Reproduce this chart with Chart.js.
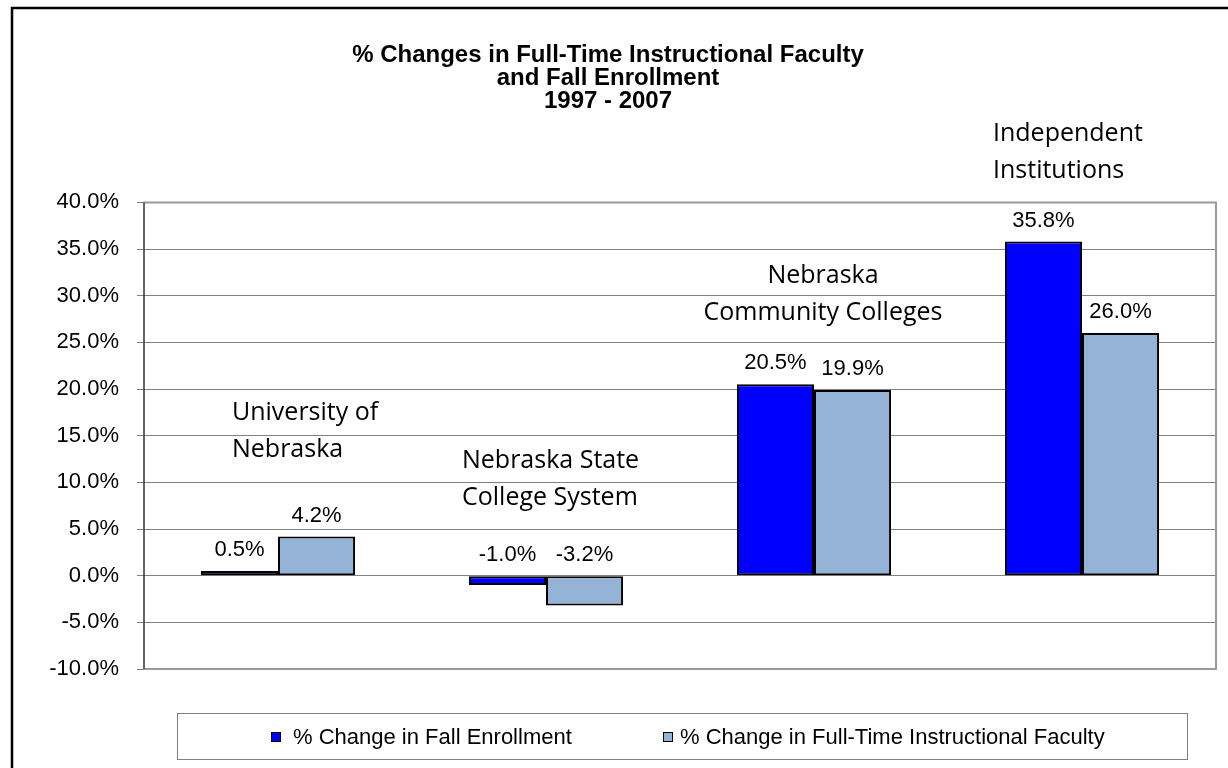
<!DOCTYPE html>
<html>
<head>
<meta charset="utf-8">
<script src="https://cdn.jsdelivr.net/npm/chart.js@4.4.1/dist/chart.umd.min.js"></script>
<style>
  body { margin: 0; background: #fff; overflow: hidden; }
  #wrap { position: relative; width: 1228px; height: 768px; }
  #legend {
    position: absolute; left: 177px; top: 713px; width: 1011px; height: 47px;
    border: 1px solid #808080; box-sizing: border-box;
    font-family: "Liberation Sans", Arial, sans-serif; font-size: 22px;
  }
  #legend span.item { position: absolute; top: 0; height: 45px; display: flex; align-items: center; white-space: nowrap; }
  #legend i { display: inline-block; width: 8px; height: 8px; border: 1.5px solid #000; }
</style>
</head>
<body>
<div id="wrap">
  <canvas id="chart" width="1228" height="768"></canvas>
  <div id="legend"></div>
</div>
<script>
// data
var categories = [
    ['University of', 'Nebraska'],
    ['Nebraska State', 'College System'],
    ['Nebraska', 'Community Colleges'],
    ['Independent', 'Institutions']
];
var enrollment = [0.5, -1.0, 20.5, 35.8];
var faculty = [4.2, -3.2, 19.9, 26.0];
var seriesNames = ['% Change in Fall Enrollment', '% Change in Full-Time Instructional Faculty'];
var yTicks = [-10, -5, 0, 5, 10, 15, 20, 25, 30, 35, 40];
var titleLines = ['% Changes in Full-Time Instructional Faculty', 'and Fall Enrollment', '1997 - 2007'];

var colors = ['#0000ff', '#95b3d7'];
var arial = '"Liberation Sans", Arial, sans-serif';

// outer frame + plot area border
var framePlugin = {
    id: 'frame',
    beforeDraw: function(chart) {
        var ctx = chart.ctx;
        ctx.save();
        ctx.strokeStyle = '#000';
        ctx.lineWidth = 2.5;
        ctx.strokeRect(12, 8, 1400, 1000);
        ctx.restore();
    },
    afterDraw: function(chart) {
        var ctx = chart.ctx, a = chart.chartArea;
        ctx.save();
        ctx.strokeStyle = '#9a9a9a';
        ctx.lineWidth = 2;
        ctx.beginPath();
        ctx.moveTo(a.left, a.top);
        ctx.lineTo(a.right, a.top);
        ctx.lineTo(a.right, a.bottom);
        ctx.lineTo(a.left, a.bottom);
        ctx.stroke();
        ctx.strokeStyle = '#333';
        ctx.lineWidth = 1.5;
        ctx.beginPath();
        ctx.moveTo(a.left, a.top);
        ctx.lineTo(a.left, a.bottom);
        ctx.stroke();
        ctx.restore();
    }
};

// value labels above each bar
var valueLabels = {
    id: 'valueLabels',
    afterDatasetsDraw: function(chart) {
        var ctx = chart.ctx, y = chart.scales.y;
        ctx.save();
        ctx.font = '22px ' + arial;
        ctx.fillStyle = '#000';
        ctx.textAlign = 'center';
        ctx.textBaseline = 'middle';
        chart.data.datasets.forEach(function(ds, di) {
            chart.getDatasetMeta(di).data.forEach(function(bar, i) {
                var v = ds.data[i];
                var py = y.getPixelForValue(Math.max(v, 0)) - 21;
                ctx.fillText(v.toFixed(1) + '%', bar.x, py);
            });
        });
        ctx.restore();
    }
};

// category names floating above the groups
var catLayout = [
    { dx: -46, at: 17.5, align: 'left' },
    { dx: -84, at: 12.4, align: 'left' },
    { dx: 9, at: 32.2, align: 'center' },
    { dx: -89, at: 47.5, align: 'left' }
];
var categoryLabels = {
    id: 'categoryLabels',
    afterDraw: function(chart) {
        var ctx = chart.ctx, x = chart.scales.x, y = chart.scales.y;
        ctx.save();
        ctx.font = '25px "Open Sans", sans-serif';
        ctx.fillStyle = '#000';
        ctx.textBaseline = 'middle';
        categories.forEach(function(lines, i) {
            var l = catLayout[i];
            var px = x.getPixelForValue(i) + l.dx;
            var py = y.getPixelForValue(l.at) + 1;
            ctx.textAlign = l.align;
            lines.forEach(function(t, k) {
                ctx.fillText(t, px, py + k * 37);
            });
        });
        ctx.restore();
    }
};

var chart = new Chart(document.getElementById('chart'), {
    type: 'bar',
    data: {
        labels: categories.map(function(c) { return c.join(' '); }),
        datasets: [
            { label: seriesNames[0], data: enrollment, backgroundColor: colors[0] },
            { label: seriesNames[1], data: faculty, backgroundColor: colors[1] }
        ]
    },
    options: {
        responsive: false,
        animation: false,
        events: [],
        layout: { padding: { left: 0, right: 12, top: 0, bottom: 99 } },
        datasets: {
            bar: {
                borderColor: '#000',
                borderWidth: 2,
                borderSkipped: false,
                barPercentage: 1,
                categoryPercentage: 0.575
            }
        },
        plugins: {
            legend: { display: false },
            tooltip: { enabled: false },
            title: {
                display: true,
                text: titleLines,
                color: '#000',
                font: { family: arial, size: 24, weight: 'bold', lineHeight: 0.95 },
                padding: { top: 44, bottom: 90 }
            }
        },
        scales: {
            x: {
                ticks: { display: false },
                grid: { display: false, drawTicks: false },
                border: { display: false },
                afterFit: function(s) { s.height = 0; }
            },
            y: {
                min: -10,
                max: 40,
                afterBuildTicks: function(s) {
                    s.ticks = yTicks.map(function(v) { return { value: v }; });
                },
                afterFit: function(s) { s.width = 144; },
                ticks: {
                    color: '#000',
                    padding: 18,
                    font: { family: arial, size: 22 },
                    callback: function(v) { return v.toFixed(1) + '%'; }
                },
                grid: { color: '#808080', lineWidth: 1, tickLength: 7, tickColor: '#808080' },
                border: { display: false }
            }
        }
    },
    plugins: [framePlugin, valueLabels, categoryLabels]
});

// legend box
var legend = document.getElementById('legend');
var legendX = [93, 485];
var legendGap = [12, 7];
seriesNames.forEach(function(name, i) {
    var s = document.createElement('span');
    s.className = 'item';
    s.style.left = legendX[i] + 'px';
    s.innerHTML = '<i style="background:' + colors[i] + ';margin-right:' + legendGap[i] + 'px"></i>' + name;
    legend.appendChild(s);
});
</script>
</body>
</html>
